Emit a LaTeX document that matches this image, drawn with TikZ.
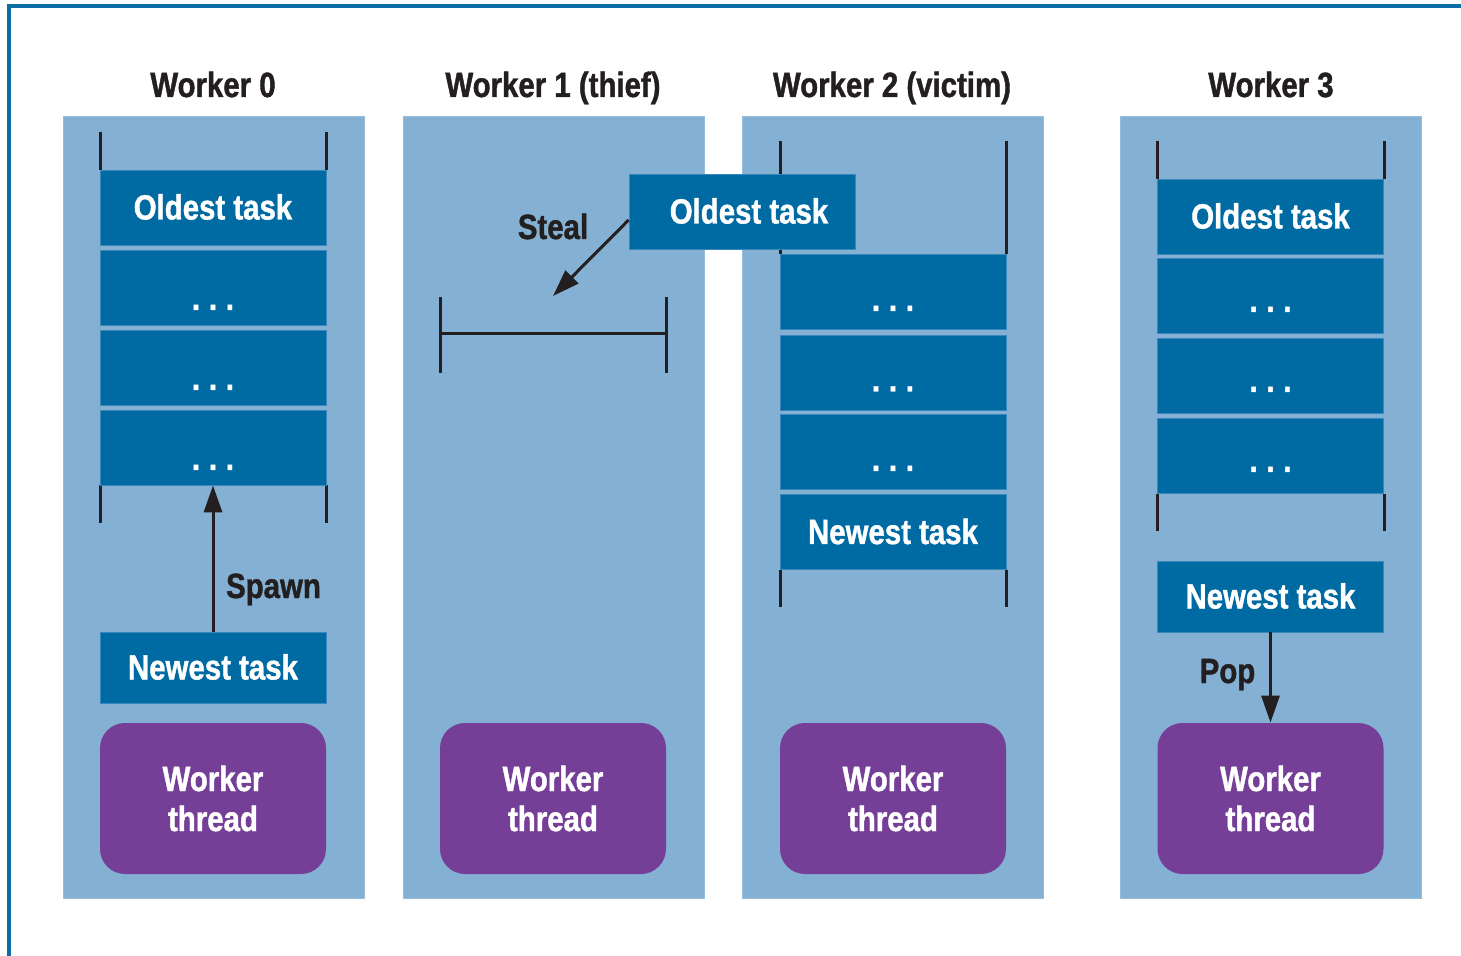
\documentclass[tikz,border=0pt]{standalone}
\usepackage{fontspec}
\setmainfont[FakeStretch=0.84,BoldFeatures={FakeBold=1.2}]{Liberation Sans}
\usetikzlibrary{arrows.meta}
\definecolor{panelblue}{HTML}{84B1D3}
\definecolor{boxblue}{HTML}{006AA3}
\definecolor{boxedge}{HTML}{3A87BB}
\definecolor{thpurple}{HTML}{753F97}
\definecolor{inkdark}{HTML}{231F20}
\definecolor{framebl}{HTML}{0B6CA6}
\begin{document}
\begin{tikzpicture}[x=0.5pt,y=-0.5pt,
  every node/.style={font=\fontsize{17.5pt}{20pt}\selectfont\bfseries},
  panel/.style={fill=panelblue,draw=panelblue!85!white,line width=0.5pt,minimum width=150.5pt,minimum height=390.5pt,inner sep=0pt},
  taskbox/.style={fill=boxblue,draw=boxedge,line width=0.4pt,text=white,minimum width=113pt,minimum height=37.5pt,inner sep=0pt,text height=12pt,text depth=0pt},
  dotbox/.style={taskbox,text height=19pt},
  newbox/.style={taskbox,minimum height=35.5pt},
  thread/.style={fill=thpurple,rounded corners=12.5pt,text=white,minimum width=113pt,minimum height=75.5pt,inner sep=0pt,align=center},
  title/.style={text=inkdark,anchor=base,inner sep=0pt},
  lbl/.style={text=inkdark,anchor=base,inner sep=0pt},
  tick/.style={draw=inkdark,line width=1.5pt},
  arr/.style={draw=inkdark,line width=1.5pt,-{Triangle[length=13.5pt,width=9pt]}},
  frame/.style={draw=framebl,line width=1.6pt}
]
\useasboundingbox (0,0) rectangle (1461,956);
\draw[frame] (9,956) -- (9,6) -- (1461,6);

% titles
\node[title] (t0) at (213,97) {Worker 0};
\node[title] (t1) at (553,97) {Worker 1 (thief)};
\node[title] (t2) at (892,97) {Worker 2 (victim)};
\node[title] (t3) at (1271,97) {Worker 3};

% panels
\node[panel] (p0) at (213.5,507.5) {};
\node[panel] (p1) at (553.5,507.5) {};
\node[panel] (p2) at (892.5,507.5) {};
\node[panel] (p3) at (1270.5,507.5) {};

\newcommand{\tdots}{.\hspace{4.4pt}.\hspace{4.4pt}.}

% Worker 0
\draw[tick] (100,132) -- (100,170) (326,132) -- (326,170);
\draw[tick] (100,485) -- (100,523) (326,485) -- (326,523);
\node[taskbox] (w0a) at (213,207.5) {Oldest task};
\node[dotbox,text height=22.5pt] (w0b) at (213,287.5) {\tdots};
\node[dotbox,text height=22.5pt] (w0c) at (213,367.5) {\tdots};
\node[dotbox,text height=22.5pt] (w0d) at (213,447.5) {\tdots};
\node[newbox] (w0n) at (213,667.5) {Newest task};
\node[thread] (w0t) at (213,798.5) {Worker\\thread};
\draw[arr] (w0n.north) -- (w0d.south);
\node[lbl] (spawn) at (273.5,598) {Spawn};

% Worker 1
\draw[tick] (440,297) -- (440,373) (666,297) -- (666,373);
\draw[tick] (440,334) -- (666,334);
\coordinate (stealtip) at (553,296);
\node[lbl] (steal) at (553,239) {Steal};
\node[thread] (w1t) at (553,798.5) {Worker\\thread};

% Worker 2
\draw[tick] (780,141) -- (780,254) (1006,141) -- (1006,254);
\draw[tick] (780,570) -- (780,607) (1006,570) -- (1006,607);
\node[dotbox] (w2b) at (893,292) {\tdots};
\node[dotbox] (w2c) at (893,372.5) {\tdots};
\node[dotbox] (w2d) at (893,452) {\tdots};
\node[taskbox] (w2n) at (893,532) {Newest task};
\node[thread] (w2t) at (893,798.5) {Worker\\thread};

% stolen task
\node[taskbox] (stolen) at (742,211.5) {\hspace*{7pt}Oldest task};
\draw[arr] ([yshift=-4.25pt]stolen.west) -- (stealtip);

% Worker 3
\draw[tick] (1157,141) -- (1157,179) (1384,141) -- (1384,179);
\draw[tick] (1157,494) -- (1157,531) (1384,494) -- (1384,531);
\node[taskbox] (w3a) at (1270.5,216.5) {Oldest task};
\node[dotbox,text height=16pt] (w3b) at (1270.5,296) {\tdots};
\node[dotbox,text height=16pt] (w3c) at (1270.5,376) {\tdots};
\node[dotbox,text height=16pt] (w3d) at (1270.5,456) {\tdots};
\node[newbox] (w3n) at (1270.5,596.5) {Newest task};
\node[thread] (w3t) at (1270.5,798.5) {Worker\\thread};
\draw[arr] (w3n.south) -- (w3t.north);
\node[lbl] (pop) at (1227.5,683) {Pop};
\end{tikzpicture}
\end{document}
